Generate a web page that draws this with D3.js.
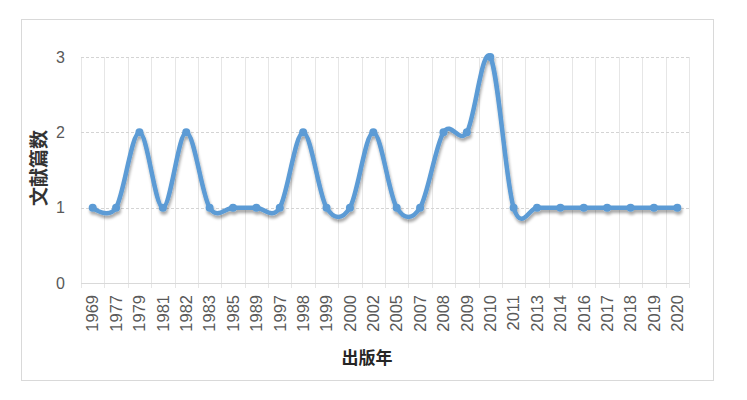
<!DOCTYPE html>
<html><head><meta charset="utf-8">
<script src="https://cdn.jsdelivr.net/npm/d3@7/dist/d3.min.js"></script>
<style>body{margin:0;background:#fff;}svg{display:block;}</style>
</head><body>
<svg id="c" width="747" height="400"></svg>
<script>
const years = ["1969","1977","1979","1981","1982","1983","1985","1989","1997","1998","1999","2000","2002","2005","2007","2008","2009","2010","2011","2013","2014","2016","2017","2018","2019","2020"];
const counts = [1,1,2,1,2,1,1,1,1,2,1,1,2,1,1,2,2,3,1,1,1,1,1,1,1,1];
const yTicks = [0,1,2,3];

const svg = d3.select("#c");
const m = {l:81, r:689, t:57, b:283};
const font = "'Liberation Sans', Arial, sans-serif";

svg.append("rect").attr("x",21.5).attr("y",19.5).attr("width",692).attr("height",361)
  .attr("fill","#fff").attr("stroke","#d9d9d9").attr("stroke-width",1);

const x = d3.scaleBand().domain(years).range([m.l, m.r]);
const y = d3.scaleLinear().domain([0,3]).range([m.b, m.t]);

// vertical gridlines at category boundaries
const bounds = years.map(d => x(d)).concat([m.r]);
svg.append("g").selectAll("line").data(bounds).join("line")
  .attr("x1",d=>Math.round(d)+0.5).attr("x2",d=>Math.round(d)+0.5)
  .attr("y1",m.t).attr("y2",m.b+5)
  .attr("stroke","#e6e6e6").attr("stroke-width",1);

// horizontal gridlines
svg.append("g").selectAll("line").data(yTicks).join("line")
  .attr("x1",m.l).attr("x2",m.r)
  .attr("y1",d=>Math.round(y(d))+0.5).attr("y2",d=>Math.round(y(d))+0.5)
  .attr("stroke",d=>d===0?"#d9d9d9":"#d4d4d4")
  .attr("stroke-dasharray",d=>d===0?null:"3,2").attr("stroke-width",1);

// y axis labels
const ya = svg.append("g").attr("transform",`translate(${m.l},0)`)
  .call(d3.axisLeft(y).tickValues(yTicks).tickSize(0).tickPadding(16).tickFormat(d3.format("d")));
ya.select(".domain").remove();
ya.selectAll("text").attr("font-family",font).attr("font-size",16).attr("fill","#595959");

// x axis labels
const xa = svg.append("g").attr("transform",`translate(0,${m.b})`)
  .call(d3.axisBottom(x).tickSize(0).tickPadding(0));
xa.select(".domain").remove();
xa.selectAll("text").attr("font-family",font).attr("font-size",16.5).attr("fill","#595959")
  .attr("transform","rotate(-90)").attr("text-anchor","end")
  .attr("x",-12).attr("y",0).attr("dy","0.35em");

// titles
svg.append("text").attr("transform","translate(37,168) rotate(-90)")
  .attr("text-anchor","middle").attr("dominant-baseline","central")
  .attr("font-family","'Noto Sans CJK SC', sans-serif").attr("font-weight","bold")
  .attr("font-size",19).attr("fill","#333").text("文献篇数");
svg.append("text").attr("x",367).attr("y",356)
  .attr("text-anchor","middle").attr("dominant-baseline","central")
  .attr("font-family","'Noto Sans CJK SC', sans-serif").attr("font-weight","bold")
  .attr("font-size",17).attr("fill","#262626").text("出版年");

// shadow filter
const defs = svg.append("defs");
const f = defs.append("filter").attr("id","sh").attr("x","-10%").attr("y","-10%").attr("width","120%").attr("height","130%");
f.append("feGaussianBlur").attr("in","SourceAlpha").attr("stdDeviation",1.8);
f.append("feOffset").attr("dx",1).attr("dy",2.5).attr("result","b");
f.append("feComponentTransfer").append("feFuncA").attr("type","linear").attr("slope",0.35);
const mg = f.append("feMerge"); mg.append("feMergeNode"); mg.append("feMergeNode").attr("in","SourceGraphic");

const data = years.map((d,i)=>({k:d,v:counts[i]}));
const line = d3.line().x(d=>x(d.k)+x.bandwidth()/2).y(d=>y(d.v)).curve(d3.curveCardinal.tension(0));
const g = svg.append("g").attr("filter","url(#sh)");
g.append("path").datum(data).attr("d",line).attr("fill","none")
  .attr("stroke","#5b9bd5").attr("stroke-width",4.5).attr("stroke-linejoin","round").attr("stroke-linecap","round");
g.selectAll("circle").data(data).join("circle")
  .attr("cx",d=>x(d.k)+x.bandwidth()/2).attr("cy",d=>y(d.v)).attr("r",4)
  .attr("fill","#5b9bd5");
</script>
</body></html>
